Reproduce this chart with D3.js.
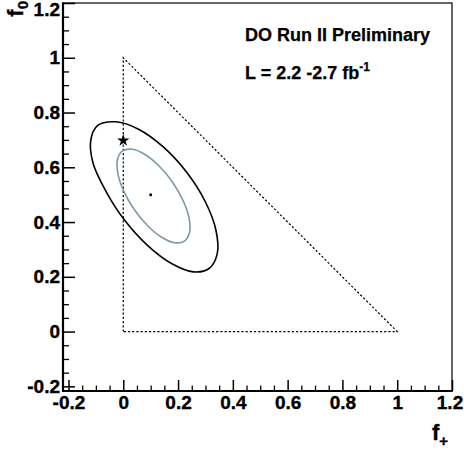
<!DOCTYPE html>
<html><head><meta charset="utf-8">
<script src="https://cdn.jsdelivr.net/npm/d3@7"></script>
<style>body{margin:0;background:#fff}svg{display:block}text{font-family:"Liberation Sans",Arial,Helvetica,sans-serif;font-weight:bold}</style>
</head><body>
<svg id="c" width="464" height="452"></svg>
<script>
const xTicks = [-0.2, 0, 0.2, 0.4, 0.6, 0.8, 1, 1.2];
const yTicks = [-0.2, 0, 0.2, 0.4, 0.6, 0.8, 1, 1.2];
const xTickLabels = ["-0.2", "0", "0.2", "0.4", "0.6", "0.8", "1", "1.2"];
const yTickLabels = ["-0.2", "0", "0.2", "0.4", "0.6", "0.8", "1", "1.2"];
const triangle = [[0, 0], [0, 1], [1, 0]];
const smPoint = [0, 0.7];
const bestFit = [0.1, 0.5];
const contourOuter = [
  [0.3131, 0.2304], [0.2563, 0.2182], [0.1777, 0.2476], [0.0893, 0.3140],
  [0.0045, 0.4072], [-0.0637, 0.5132], [-0.1105, 0.6157], [-0.1185, 0.6997],
  [-0.0941, 0.7526], [-0.0261, 0.7661], [0.0556, 0.7391], [0.1460, 0.6743],
  [0.2315, 0.5816], [0.2990, 0.4750], [0.3382, 0.3709], [0.3431, 0.2849]
];
const contourInner = [
  [0.2233, 0.3305], [0.1876, 0.3245], [0.1401, 0.3444], [0.0882, 0.3872],
  [0.0395, 0.4465], [0.0017, 0.5132], [-0.0196, 0.5772], [-0.0211, 0.6286],
  [-0.0026, 0.6597], [0.0331, 0.6658], [0.0806, 0.6459], [0.1325, 0.6031],
  [0.1812, 0.5437], [0.2190, 0.4771], [0.2403, 0.4131], [0.2418, 0.3617]
];
const label1 = "DO Run II Preliminary";
const label2 = "L = 2.2 -2.7 fb";
const label2sup = "-1";

const svg = d3.select("#c");
const L = 63, R = 452, T = 3, B = 391;
const x = d3.scaleLinear().domain([-0.22, 1.2]).range([L, R]);
const y = d3.scaleLinear().domain([-0.217, 1.2]).range([B, T]);

// frame
svg.append("rect").attr("x", L).attr("y", T).attr("width", R - L).attr("height", B - T)
  .attr("fill", "none").attr("stroke", "#000").attr("stroke-width", 1.2);

const minorX = d3.range(-0.2, 1.2001, 0.05).map(v => +v.toFixed(2)).filter(v => !xTicks.some(t => Math.abs(t - v) < 1e-6));
const minorY = d3.range(-0.2, 1.2001, 0.05).map(v => +v.toFixed(2)).filter(v => !yTicks.some(t => Math.abs(t - v) < 1e-6));
const tickFont = '"Liberation Sans",Arial,sans-serif';

function heavy(sel) { sel.attr("stroke", "#000").attr("stroke-width", 0.35); }

// bottom axis
const gx = svg.append("g").attr("transform", `translate(0,${B})`);
gx.call(d3.axisBottom(x).tickValues(xTicks).tickSize(-11).tickFormat((d, i) => xTickLabels[i]).tickPadding(5));
gx.select(".domain").remove();
gx.selectAll(".tick line").attr("stroke-width", 1.5);
gx.selectAll(".tick text").attr("font-size", 19).attr("font-family", tickFont).attr("font-weight", "bold").attr("fill", "#000").call(heavy);
gx.selectAll(".tick").filter(d => d === 1.2).select("text").attr("x", -2.5);
const gxm = svg.append("g").attr("transform", `translate(0,${B})`);
gxm.call(d3.axisBottom(x).tickValues(minorX).tickSize(-5.5).tickFormat(""));
gxm.select(".domain").remove();
gxm.selectAll(".tick line").attr("stroke-width", 1.3);

// left axis
const gy = svg.append("g").attr("transform", `translate(${L},0)`);
gy.call(d3.axisLeft(y).tickValues(yTicks).tickSize(-12).tickFormat((d, i) => yTickLabels[i]).tickPadding(3));
gy.select(".domain").remove();
gy.selectAll(".tick line").attr("stroke-width", 1.5);
gy.selectAll(".tick text").attr("font-size", 19).attr("font-family", tickFont).attr("font-weight", "bold").attr("fill", "#000").call(heavy);
const gym = svg.append("g").attr("transform", `translate(${L},0)`);
gym.call(d3.axisLeft(y).tickValues(minorY).tickSize(-6).tickFormat(""));
gym.select(".domain").remove();
gym.selectAll(".tick line").attr("stroke-width", 1.3);
gy.selectAll(".tick").filter(d => d === 1.2).select("text").attr("dy", "0.68em");

// thick axis lines
svg.append("line").attr("x1", L).attr("x2", R + 0.6).attr("y1", B).attr("y2", B).attr("stroke", "#000").attr("stroke-width", 2.2);
svg.append("line").attr("x1", L).attr("x2", L).attr("y1", T - 0.6).attr("y2", B + 1).attr("stroke", "#000").attr("stroke-width", 2.2);

// triangle
svg.append("path")
  .attr("d", d3.line().x(d => x(d[0])).y(d => y(d[1]))(triangle) + "Z")
  .attr("fill", "none").attr("stroke", "#000").attr("stroke-width", 1.2).attr("stroke-dasharray", "2.2,2");

// contours
const cl = d3.line().x(d => x(d[0])).y(d => y(d[1])).curve(d3.curveCatmullRomClosed);
svg.append("path").attr("d", cl(contourOuter)).attr("fill", "none").attr("stroke", "#000").attr("stroke-width", 1.6);
svg.append("path").attr("d", cl(contourInner)).attr("fill", "none").attr("stroke", "#7f98a7").attr("stroke-width", 1.6);

// best fit dot
svg.append("circle").attr("cx", x(bestFit[0])).attr("cy", y(bestFit[1])).attr("r", 1.5).attr("fill", "#000");
// SM star
svg.append("path").attr("d", d3.symbol(d3.symbolStar, 48)())
  .attr("transform", `translate(${x(smPoint[0])},${y(smPoint[1]) + 0.5})`).attr("fill", "#000");

// texts
svg.append("text").attr("x", 245).attr("y", 41).attr("font-size", 18).call(heavy).attr("stroke-width", 0.25).text(label1);
const t2 = svg.append("text").attr("x", 245).attr("y", 79).attr("font-size", 18).call(heavy).attr("stroke-width", 0.25);
t2.append("tspan").text(label2);
t2.append("tspan").attr("dy", -8).attr("font-size", 12).text(label2sup);

// axis titles
const xt = svg.append("text").attr("x", 432).attr("y", 440).attr("font-size", 22).call(heavy);
xt.append("tspan").text("f");
xt.append("tspan").attr("dy", 6).attr("font-size", 15).text("+");
const yt = svg.append("text").attr("transform", "translate(23,1) rotate(-90)").attr("text-anchor", "end").attr("font-size", 22).call(heavy);
yt.append("tspan").text("f");
yt.append("tspan").attr("dy", 5).attr("font-size", 15).text("0");
</script>
</body></html>
